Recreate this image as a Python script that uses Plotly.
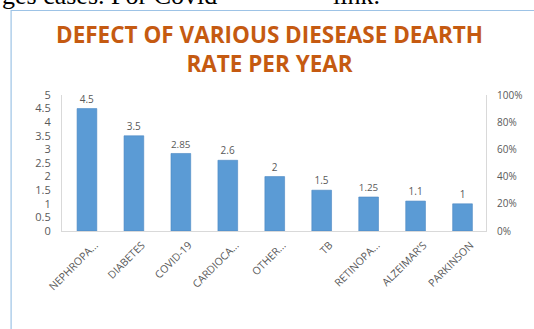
import plotly.graph_objects as go

# Death rate per year by disease
diseases = ["NEPHROPA...", "DIABETES", "COVID-19", "CARDIOCA...", "OTHER...",
            "TB", "RETINOPA...", "ALZEIMAR'S", "PARKINSON"]
rates = [4.5, 3.5, 2.85, 2.6, 2, 1.5, 1.25, 1.1, 1]
rate_labels = ["4.5", "3.5", "2.85", "2.6", "2", "1.5", "1.25", "1.1", "1"]

left_ticks = [0, 0.5, 1, 1.5, 2, 2.5, 3, 3.5, 4, 4.5, 5]
left_tick_text = ["0", "0.5", "1", "1.5", "2", "2.5", "3", "3.5", "4", "4.5", "5"]
right_ticks = [0, 0.2, 0.4, 0.6, 0.8, 1.0]
right_tick_text = ["0%", "20%", "40%", "60%", "80%", "100%"]

title_lines = ["DEFECT OF VARIOUS DIESEASE DEARTH", "RATE PER YEAR"]

W, H = 534, 329
M_L, M_R, M_T, M_B = 62, 43, 95, 98
PLOT_H = H - M_T - M_B
PLOT_W = W - M_L - M_R


def py(y_pixel):
    """Convert a pixel row (from top of page) to paper y."""
    return (H - M_B - y_pixel) / PLOT_H


def px(x_pixel):
    """Convert a pixel column (from left of page) to paper x."""
    return (x_pixel - M_L) / PLOT_W


GRAY_TXT = "#595959"
AXIS_LINE = "#D9D9D9"

fig = go.Figure()
fig.add_trace(go.Bar(
    x=diseases, y=rates,
    marker=dict(color="#5B9BD5", line=dict(color="#4A87C2", width=0.6)),
    width=0.42,
    text=rate_labels, textposition="outside",
    textfont=dict(family="Open Sans", size=10, color=GRAY_TXT),
    cliponaxis=False,
    hoverinfo="skip",
))

fig.update_layout(
    width=W, height=H,
    margin=dict(l=M_L, r=M_R, t=M_T, b=M_B, pad=0),
    paper_bgcolor="white", plot_bgcolor="white",
    showlegend=False,
    bargap=0.58,
    xaxis=dict(
        tickangle=-45,
        tickfont=dict(family="Open Sans", size=10.5, color=GRAY_TXT),
        showline=True, linecolor=AXIS_LINE, linewidth=1,
        showgrid=False, ticks="", ticklabelshift=8, ticklabelstandoff=3,
    ),
    yaxis=dict(
        range=[0, 5], tickvals=left_ticks, ticktext=left_tick_text,
        tickfont=dict(family="Open Sans", size=11, color=GRAY_TXT),
        showline=True, linecolor=AXIS_LINE, linewidth=1,
        showgrid=False, zeroline=False, ticks="", ticklabelstandoff=8,
    ),
    yaxis2=dict(
        overlaying="y", side="right", anchor="x",
        range=[0, 1], tickvals=right_ticks, ticktext=right_tick_text,
        tickfont=dict(family="Open Sans", size=10, color=GRAY_TXT),
        showline=True, linecolor=AXIS_LINE, linewidth=1,
        showgrid=False, zeroline=False, ticks="", ticklabelstandoff=8,
    ),
)

# invisible companion trace so the percentage axis is rendered
fig.add_trace(go.Scatter(x=[diseases[0]], y=[0], yaxis="y2", mode="markers",
                         marker=dict(opacity=0), hoverinfo="skip"))

# surrounding frame of the chart
fig.add_shape(type="rect", xref="paper", yref="paper",
              x0=px(10.5), x1=px(W + 20), y0=py(H + 20), y1=py(10.5),
              line=dict(color="#9DC3E6", width=1.2), fillcolor="rgba(0,0,0,0)",
              layer="below")

# chart title, two centered lines in one block
fig.add_annotation(
    text="<br>".join(title_lines), xref="paper", yref="paper",
    x=px(272), y=py(49), xanchor="center", yanchor="middle",
    align="center", showarrow=False,
    font=dict(family="Open Sans", size=22.5, color="#C55A11", weight="bold"),
)

# running text of the page above the chart
fig.add_annotation(text="ges cases. For Covid", xref="paper", yref="paper",
                   x=px(-1), y=py(-5), xanchor="left", yanchor="middle",
                   showarrow=False,
                   font=dict(family="Liberation Serif", size=26, color="black"))
fig.add_annotation(text="link.", xref="paper", yref="paper",
                   x=px(334), y=py(-5), xanchor="left", yanchor="middle",
                   showarrow=False,
                   font=dict(family="Liberation Serif", size=26, color="black"))

fig.write_html("out.html")
